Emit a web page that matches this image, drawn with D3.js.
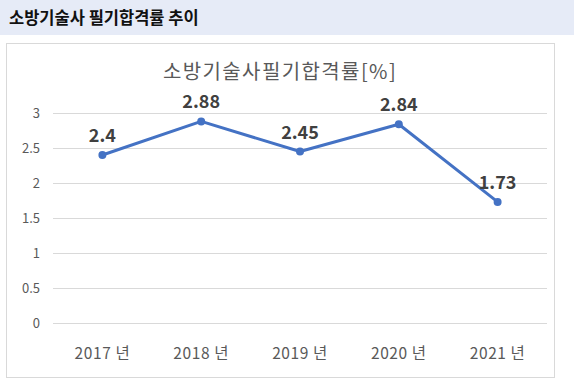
<!DOCTYPE html>
<html><head><meta charset="utf-8">
<script src="https://cdn.jsdelivr.net/npm/d3@7"></script>
<style>body{margin:0;background:#fff;}</style>
</head><body>
<svg id="c" width="574" height="382"></svg>
<script>
const categories = ["2017 년","2018 년","2019 년","2020 년","2021 년"];
const values = [2.4, 2.88, 2.45, 2.84, 1.73];
const yTicks = [0, 0.5, 1, 1.5, 2, 2.5, 3];
const headerTitle = "소방기술사 필기합격률 추이";
const chartTitle = "소방기술사필기합격률[%]";

const svg = d3.select("#c");
const font = "'Noto Sans CJK KR','Noto Sans',sans-serif";

svg.append("rect").attr("x",0).attr("y",0).attr("width",574).attr("height",35).attr("fill","#e6ebf7");
svg.append("text").attr("x",9).attr("y",24).attr("font-family",font).attr("font-size",16.5)
  .attr("font-weight","bold").attr("fill","#111").text(headerTitle);

svg.append("rect").attr("x",6.5).attr("y",43.5).attr("width",548).attr("height",334)
  .attr("fill","#fff").attr("stroke","#d9d9d9").attr("stroke-width",1);

svg.append("text").attr("x",280).attr("y",79).attr("text-anchor","middle").attr("font-family",font)
  .attr("font-size",20).attr("letter-spacing",1.4).attr("fill","#595959").text(chartTitle);

const x = d3.scaleBand().domain(categories).range([53,547]);
const y = d3.scaleLinear().domain([0,3]).range([323,113]);

const g = svg.append("g");
g.selectAll("line.grid").data(yTicks).join("line").attr("class","grid")
  .attr("x1",53).attr("x2",547).attr("y1",d=>y(d)+0.5).attr("y2",d=>y(d)+0.5)
  .attr("stroke","#d9d9d9").attr("stroke-width",1);

const yAxis = svg.append("g").attr("transform","translate(43,0)")
  .call(d3.axisLeft(y).tickValues(yTicks).tickSize(0).tickPadding(3).tickFormat(d=>String(d)));
yAxis.select(".domain").remove();
yAxis.selectAll("text").attr("font-family",font).attr("font-size",13).attr("fill","#595959");

const xAxis = svg.append("g").attr("transform","translate(0,323)")
  .call(d3.axisBottom(x).tickSize(0).tickPadding(25));
xAxis.select(".domain").remove();
xAxis.selectAll("text").attr("font-family",font).attr("font-size",15.5).attr("letter-spacing",0.6).attr("fill","#595959");

const cx = d => x(d) + x.bandwidth()/2;
const line = d3.line().x((d,i)=>cx(categories[i])).y(d=>y(d));
svg.append("path").datum(values).attr("d",line).attr("fill","none")
  .attr("stroke","#4472c4").attr("stroke-width",3).attr("stroke-linejoin","round");
svg.selectAll("circle.pt").data(values).join("circle").attr("class","pt")
  .attr("cx",(d,i)=>cx(categories[i])).attr("cy",d=>y(d)).attr("r",4).attr("fill","#4472c4");
svg.selectAll("text.lbl").data(values).join("text").attr("class","lbl")
  .attr("x",(d,i)=>cx(categories[i])).attr("y",d=>y(d)-13).attr("text-anchor","middle")
  .attr("font-family",font).attr("font-size",18).attr("font-weight","bold").attr("fill","#404040")
  .text(d=>String(d));
</script>
</body></html>
